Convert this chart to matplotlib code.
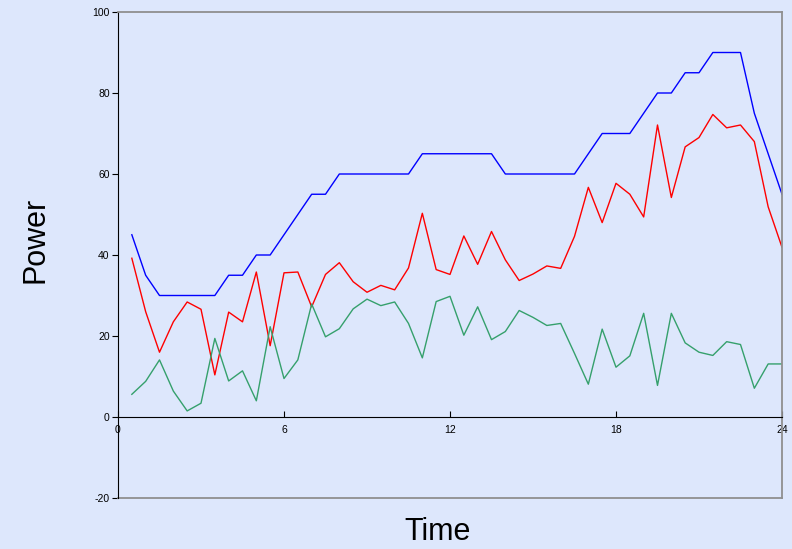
import matplotlib.pyplot as plt
import numpy as np

plt.rcParams['font.family'] = ['Liberation Sans', 'DejaVu Sans']
plt.rcParams['axes.unicode_minus'] = False

# half-hour readings
time = np.arange(0.5, 24.01, 0.5)

blue = [45, 35, 30, 30, 30, 30, 30, 35, 35, 40, 40, 45, 50, 55, 55, 60,
        60, 60, 60, 60, 60, 65, 65, 65, 65, 65, 65, 60, 60, 60, 60, 60,
        60, 65, 70, 70, 70, 75, 80, 80, 85, 85, 90, 90, 90, 75, 65, 55]

red = [39.2, 26.0, 16.0, 23.5, 28.4, 26.6, 10.4, 25.9, 23.5, 35.8, 17.6, 35.6,
       35.8, 27.2, 35.2, 38.1, 33.4, 30.8, 32.5, 31.4, 36.8, 50.3, 36.4, 35.2,
       44.7, 37.7, 45.8, 38.8, 33.7, 35.3, 37.3, 36.7, 44.6, 56.7, 48.0, 57.7,
       55.0, 49.4, 72.1, 54.2, 66.7, 69.0, 74.7, 71.4, 72.1, 68.0, 51.9, 41.9]

green = [5.6, 8.8, 14.1, 6.4, 1.5, 3.4, 19.4, 8.9, 11.4, 4.0, 22.3, 9.5,
         14.1, 27.9, 19.8, 21.8, 26.7, 29.1, 27.5, 28.4, 23.1, 14.6, 28.5, 29.8,
         20.2, 27.2, 19.1, 21.1, 26.3, 24.6, 22.6, 23.1, 15.7, 8.1, 21.7, 12.3,
         15.1, 25.6, 7.8, 25.6, 18.3, 16.0, 15.2, 18.6, 17.9, 7.1, 13.1, 13.1]

bg = '#dde7fc'
fig = plt.figure(figsize=(7.92, 5.49), dpi=100, facecolor=bg)
ax = fig.add_axes([118/792, 1-498/549, 664/792, 486/549])
ax.set_facecolor(bg)

ax.plot(time, blue, color='#0000ff', lw=1)
ax.plot(time, red, color='#ff0000', lw=1)
ax.plot(time, green, color='#35a06c', lw=1)

ax.set_xlim(0, 24)
ax.set_ylim(-20, 100)
ax.set_xticks([0, 6, 12, 18, 24])
ax.set_yticks([-20, 0, 20, 40, 60, 80, 100])

# x axis sits on y=0, frame in grey
ax.spines['bottom'].set_position(('data', 0))
ax.spines['bottom'].set_color('black')
ax.spines['left'].set_color('black')
for s in ['top', 'right']:
    ax.spines[s].set_color('#8f8f8f')
    ax.spines[s].set_linewidth(1.3)
ax.axhline(-20, color='#8f8f8f', lw=1.3, clip_on=False)

ax.tick_params(axis='x', direction='in', length=4, labelsize=7.5, pad=6)
ax.tick_params(axis='y', direction='out', length=4, labelsize=7.5, pad=2)

fig.text(35/792, 1-240/549, 'Power', rotation=90, fontsize=22,
         ha='center', va='center')
fig.text(438/792, 1-532/549, 'Time', fontsize=22, ha='center', va='center')

fig.savefig('out.png', dpi=100, facecolor=bg)
